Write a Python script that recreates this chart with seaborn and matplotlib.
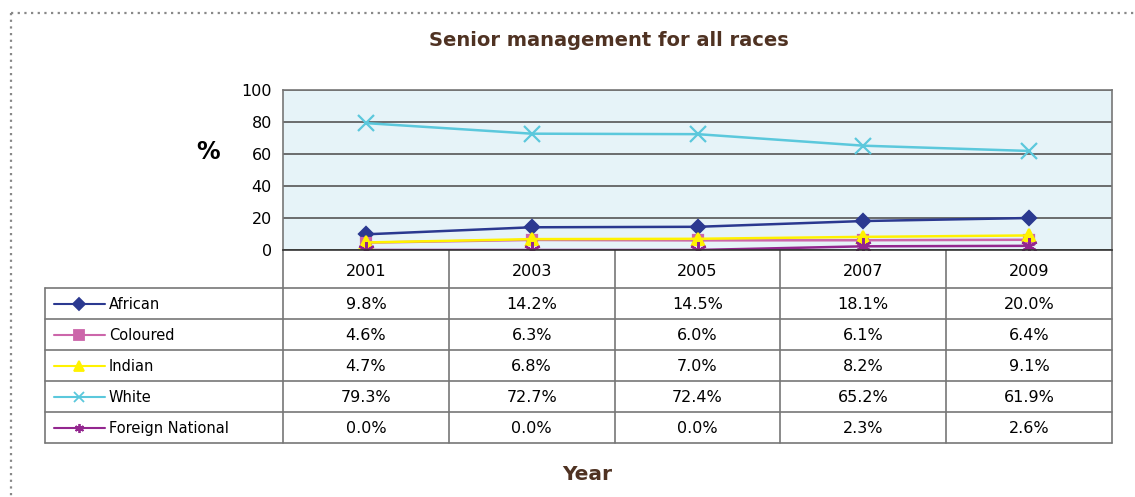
import numpy as np
import pandas as pd
import seaborn as sns
import matplotlib.pyplot as plt
from matplotlib.lines import Line2D

years = ['2001', '2003', '2005', '2007', '2009']
races = ['African', 'Coloured', 'Indian', 'White', 'Foreign National']
african = [9.8, 14.2, 14.5, 18.1, 20.0]
coloured = [4.6, 6.3, 6.0, 6.1, 6.4]
indian = [4.7, 6.8, 7.0, 8.2, 9.1]
white = [79.3, 72.7, 72.4, 65.2, 61.9]
foreign = [0.0, 0.0, 0.0, 2.3, 2.6]
series = [african, coloured, indian, white, foreign]

colors = ['#2B3990', '#CC66AA', '#FFF200', '#5BC8DC', '#93278F']
markers = ['D', 's', '^', 'x', (6, 2, 0)]
msizes = [7.5, 7.5, 9, 11, 12]

sns.set_style('white')
plt.rcParams['font.family'] = ['DejaVu Sans']
plt.rcParams['text.color'] = 'black'
plt.rcParams['ytick.labelcolor'] = 'black'

W, H = 1135, 497
fig = plt.figure(figsize=(W / 100, H / 100), dpi=100)

# layout in pixels
left, right, top, bottom = 283, 1112, 90, 250
table_left = 45
row_edges = [288, 319, 350, 381, 412, 443]
grey = '#777777'

# overlay axes in pixel coordinates for the border / table
bg = fig.add_axes([0, 0, 1, 1])
bg.set_xlim(0, W)
bg.set_ylim(H, 0)
bg.axis('off')
bg.patch.set_visible(False)

# dotted frame
bg.plot([11, W], [13, 13], color='#888888', lw=1.6, ls=(0, (1, 2)))
bg.plot([11, 11], [13, H], color='#888888', lw=1.6, ls=(0, (1, 2)))

# main plot
ax = fig.add_axes([left / W, 1 - bottom / H, (right - left) / W, (bottom - top) / H])
ax.set_facecolor('#E6F3F8')
xpos = np.arange(len(years))
for vals, name, c, m, ms in zip(series, races, colors, markers, msizes):
    df = pd.DataFrame({'x': xpos, 'y': vals})
    sns.lineplot(data=df, x='x', y='y', ax=ax, color=c, marker=m, markersize=ms,
                 markeredgecolor=c, markeredgewidth=1.6, lw=1.8, label=name)
ax.legend_.remove()
ax.set_xlim(-0.5, len(years) - 0.5)
ax.set_ylim(0, 100)
ax.set_yticks([0, 20, 40, 60, 80, 100])
ax.set_xticks([])
ax.set_xlabel('')
ax.set_ylabel('')
ax.grid(axis='y', color='#555555', lw=1.2)
ax.set_axisbelow(True)
for s in ax.spines.values():
    s.set_color(grey)
    s.set_linewidth(1.2)
ax.spines['bottom'].set_color('#333333')
ax.tick_params(axis='y', length=6, width=1.2, color='#555555', labelsize=11.5,
               labelcolor='black', pad=2)

# table
col_w = (right - left) / len(years)
col_edges = [left + i * col_w for i in range(len(years) + 1)]
for y in row_edges:
    bg.plot([table_left, right], [y, y], color=grey, lw=1.2)
bg.plot([table_left, table_left], [row_edges[0], row_edges[-1]], color=grey, lw=1.2)
for x in col_edges:
    bg.plot([x, x], [bottom, row_edges[-1]], color=grey, lw=1.2)

for i, yr in enumerate(years):
    cx = (col_edges[i] + col_edges[i + 1]) / 2
    bg.text(cx, (bottom + row_edges[0]) / 2 + 2, yr, ha='center', va='center', fontsize=11.5)

for r, (vals, name, c, m) in enumerate(zip(series, races, colors, markers)):
    cy = (row_edges[r] + row_edges[r + 1]) / 2
    bg.add_line(Line2D([54, 105], [cy, cy], color=c, lw=1.5))
    bg.add_line(Line2D([79], [cy], color=c, marker=m, markersize=6.5, markeredgecolor=c, markeredgewidth=1.3))
    bg.text(109, cy + 1, name, ha='left', va='center', fontsize=10.5)
    for i, v in enumerate(vals):
        cx = (col_edges[i] + col_edges[i + 1]) / 2
        bg.text(cx, cy + 1, f'{v:.1f}%', ha='center', va='center', fontsize=11.5)

# titles
brown = '#4F3222'
bg.text(609, 40, 'Senior management for all races', ha='center', va='center',
        fontsize=14, fontweight='bold', color=brown)
bg.text(587, 474, 'Year', ha='center', va='center', fontsize=14.5, fontweight='bold', color=brown)
bg.text(208, 152, '%', ha='center', va='center', fontsize=17, fontweight='bold', color='black')

fig.savefig('out.png', dpi=100)
